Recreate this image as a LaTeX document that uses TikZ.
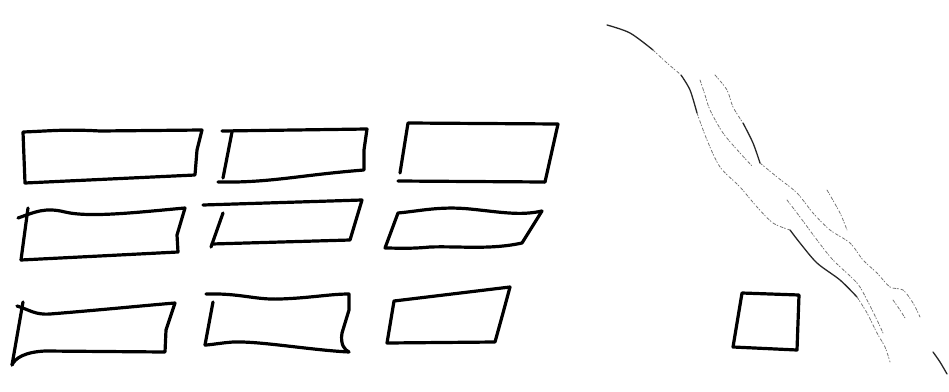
\documentclass[tikz,border=0pt]{standalone}
\begin{document}
\begin{tikzpicture}[x=1pt,y=-1pt,
  ink/.style={line width=3.2pt, line cap=round, line join=round, black},
  bank/.style={line width=0.8pt, black!55, line cap=round, dash pattern=on 3pt off 1.5pt on 1pt off 2.5pt},
  darkbank/.style={line width=1.3pt, black!85, line cap=round}]
\useasboundingbox (0,0) rectangle (949,391);
% row 1
\draw[ink] (25,183) -- (23,132) .. controls (50,131) and (65,129) .. (100,131) -- (202,130) -- (197,150) -- (195,175) -- cycle;
\draw[ink] (222,131) -- (367,129) -- (364,150) -- (364,170) .. controls (300,175) and (270,183) .. (218,182);
\draw[ink] (232,132) -- (223,178);
\draw[ink] (400,173) -- (408,123) -- (558,124) -- (545,182);
\draw[ink] (398,181) -- (545,182);
% row 2
\draw[ink] (18,218) .. controls (35,212) and (45,207) .. (65,212) .. controls (90,218) and (140,212) .. (185,208) -- (177,235) -- (178,252) -- (21,260);
\draw[ink] (28,208) -- (21,260);
\draw[ink] (203,205) -- (362,200) -- (350,240) -- (212,244);
\draw[ink] (223,213) -- (211,247);
\draw[ink] (398,213) .. controls (420,211) and (440,206) .. (470,209) .. controls (500,212) and (520,216) .. (542,211) -- (522,243) .. controls (490,250) and (460,246) .. (430,247) .. controls (410,249) and (395,248) .. (385,248) -- cycle;
% row 3
\draw[ink] (17,306) .. controls (30,310) and (35,315) .. (50,314) .. controls (100,310) and (150,305) .. (175,303) -- (166,330) -- (165,352) -- (45,351) .. controls (25,352) and (15,358) .. (12,365);
\draw[ink] (23,302) -- (12,365);
\draw[ink] (206,294) .. controls (240,293) and (255,300) .. (280,299) .. controls (310,298) and (330,294) .. (349,294) -- (349,310) -- (342,333) .. controls (340,345) and (345,350) .. (349,352) .. controls (310,350) and (260,341) .. (233,342) .. controls (220,343) and (210,345) .. (205,345);
\draw[ink] (213,302) -- (205,345);
\draw[ink] (394,301) -- (510,287) -- (503,313) -- (495,342) -- (387,343) -- cycle;
% small square
\draw[ink] (742,293) -- (799,295) -- (797,350) -- (733,347) -- cycle;
% river banks
\draw[darkbank] plot[smooth] coordinates {(607,25) (630,33) (653,50)};
\draw[bank] plot[smooth] coordinates {(653,50) (667,63) (680,74)};
\draw[darkbank] plot[smooth] coordinates {(681,75) (690,90) (697,113)};
\draw[bank] plot[smooth] coordinates {(697,113) (707,140) (720,167) (740,187) (757,207) (773,223) (790,230)};
\draw[darkbank] plot[smooth] coordinates {(790,230) (800,243) (817,263) (840,280) (857,297)};
\draw[bank] plot[smooth] coordinates {(857,297) (867,313) (877,333) (885,347) (890,362)};
\draw[bank] plot[smooth] coordinates {(700,80) (705,95) (710,110) (723,133) (740,153) (753,167)};
\draw[bank] plot[smooth] coordinates {(715,75) (727,90) (733,107) (743,123)};
\draw[darkbank] plot[smooth] coordinates {(743,123) (753,143) (760,163)};
\draw[bank] plot[smooth] coordinates {(760,163) (777,177) (797,193) (813,213) (830,230) (850,243) (863,260) (877,273) (890,287) (903,290) (913,303) (920,317)};
\draw[bank] plot[smooth] coordinates {(787,200) (800,217) (817,240) (833,260) (857,283) (867,300) (877,320) (883,333)};
\draw[bank] plot[smooth] coordinates {(827,190) (840,213) (847,230)};
\draw[bank] plot[smooth] coordinates {(893,300) (900,310) (905,318)};
\draw[darkbank] plot[smooth] coordinates {(933,352) (940,362) (947,374)};
\end{tikzpicture}
\end{document}
